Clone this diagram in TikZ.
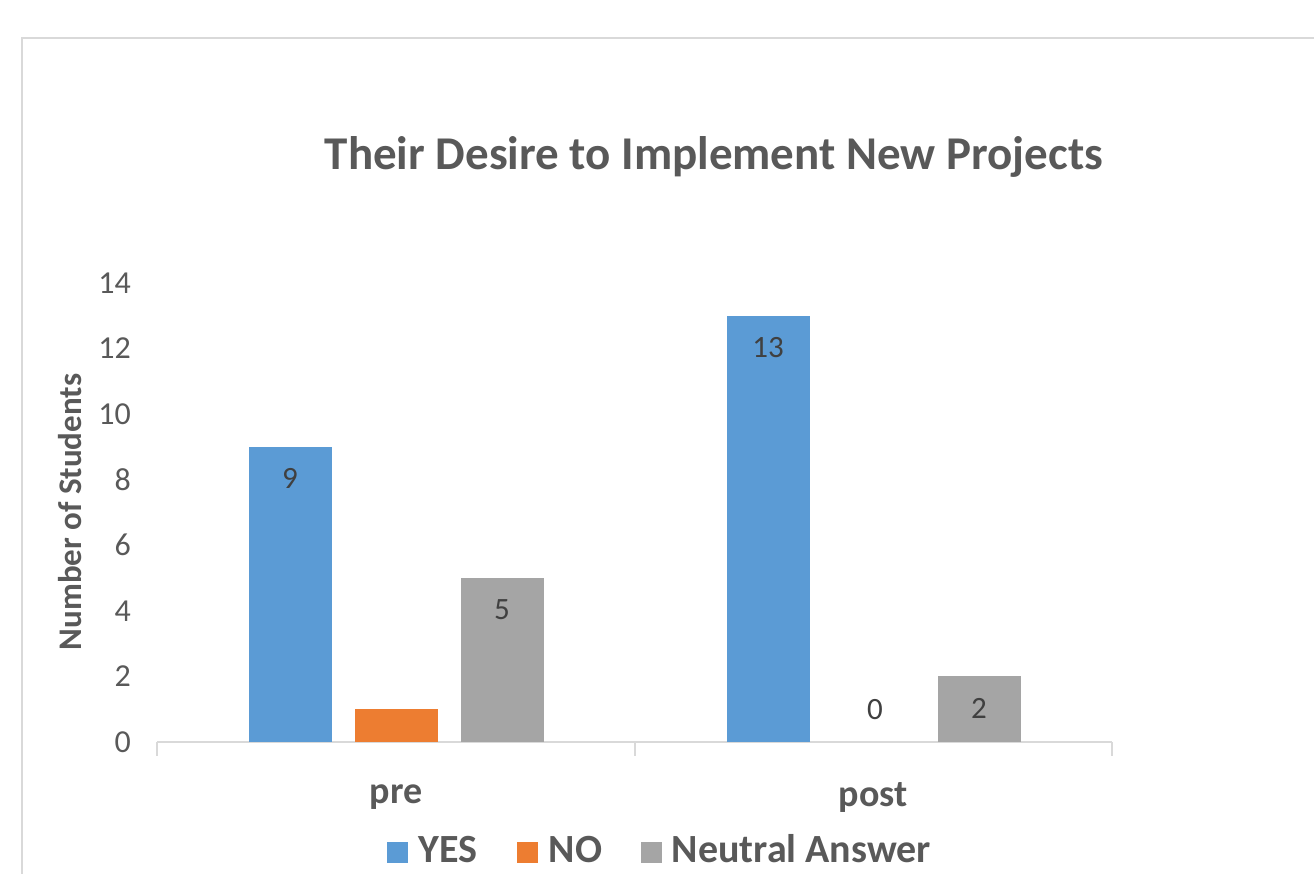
\documentclass[tikz,border=0pt]{standalone}
\usepackage{fontspec}
\setmainfont{Carlito}
\usetikzlibrary{positioning}
\definecolor{yescol}{HTML}{5B9BD5}
\definecolor{nocol}{HTML}{ED7D31}
\definecolor{neucol}{HTML}{A5A5A5}
\definecolor{txtcol}{HTML}{595959}
\definecolor{valcol}{HTML}{404040}
\definecolor{axiscol}{HTML}{D9D9D9}
\tikzstyle{bar} = [draw=none, minimum width=83pt, inner sep=0pt, anchor=south]
\tikzstyle{val} = [text=valcol, inner sep=0pt, font=\fontsize{31}{33}\selectfont]
\tikzstyle{tick} = [text=txtcol, inner sep=0pt, anchor=east, font=\fontsize{32}{34}\selectfont]
\tikzstyle{cat} = [text=txtcol, inner sep=0pt, font=\bfseries\fontsize{38}{42}\selectfont]
\tikzstyle{key} = [minimum size=21pt, inner sep=0pt]
\tikzstyle{keytext} = [text=txtcol, inner sep=0pt, anchor=west, text height=26pt, text depth=0pt, yshift=3pt, font=\bfseries\fontsize{40}{44}\selectfont]
\def\unit{32.79}

\begin{document}
\begin{tikzpicture}[x=1pt, y=-1pt]
            \useasboundingbox (0,0) rectangle (1314,873);
            \draw[axiscol, line width=2.5pt] (22,880) -- (22,38) -- (1320,38);

            % title and axis title
            \node(title) [text=txtcol, font=\bfseries\fontsize{47}{52}\selectfont] at (714,157) {Their Desire to Implement New Projects};
            \node(ytitle) [text=txtcol, rotate=90, font=\bfseries\fontsize{33}{36}\selectfont] at (70,512) {Number of Students};

            % y ticks
            \foreach \v in {0,2,...,14}
                \node(t\v) [tick] at (131,{742-\v*\unit}) {\v};

            % axis
            \coordinate(a0) at (157,742);
            \coordinate(a1) at (635,742);
            \coordinate(a2) at (1112,742);
            \draw[axiscol, line width=1.5pt] (a0) -- (a2);
            \draw[axiscol, line width=1.5pt] (a0) -- ++(0,14);
            \draw[axiscol, line width=1.5pt] (a1) -- ++(0,14);
            \draw[axiscol, line width=1.5pt] (a2) -- ++(0,14);

            % bars
            \node(preyes) [bar, fill=yescol, minimum height=9*\unit] at (290,742) {};
            \node(preno) [bar, fill=nocol, minimum height=1*\unit] at (396,742) {};
            \node(preneu) [bar, fill=neucol, minimum height=5*\unit] at (502,742) {};
            \node(postyes) [bar, fill=yescol, minimum height=13*\unit] at (768,742) {};
            \coordinate(postno) at (875,742);
            \node(postneu) [bar, fill=neucol, minimum height=2*\unit] at (979,742) {};

            % values
            \node(v1) [val, below=22pt of preyes.north] {9};
            \node(v3) [val, below=22pt of preneu.north] {5};
            \node(v4) [val, below=22pt of postyes.north] {13};
            \node(v5) [val, above=22pt of postno] {0};
            \node(v6) [val, below=22pt of postneu.north] {2};

            % categories
            \node(pre) [cat] at (396,797) {pre};
            \node(post) [cat] at (873,797) {post};

            % legend
            \node(k1) [key, fill=yescol] at (397,852) {};
            \node(l1) [keytext, right=11pt of k1] {YES};
            \node(k2) [key, fill=nocol] at (527,852) {};
            \node(l2) [keytext, right=11pt of k2] {NO};
            \node(k3) [key, fill=neucol] at (651,852) {};
            \node(l3) [keytext, right=10pt of k3] {Neutral Answer};
\end{tikzpicture}
\end{document}
